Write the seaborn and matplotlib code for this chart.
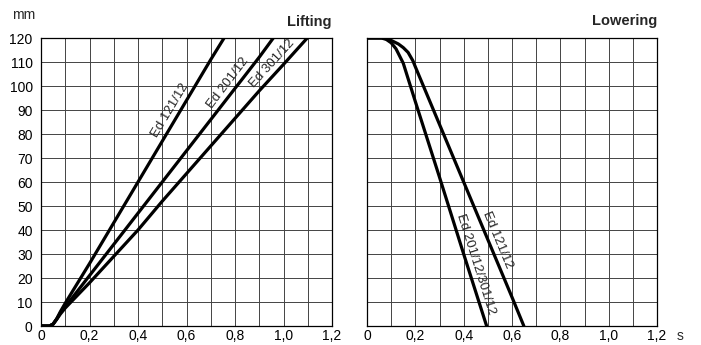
"""
Lifting / lowering stroke-time curves for Ed thrusters
"""

import numpy as np
import pandas as pd
import matplotlib
matplotlib.use('Agg')
import matplotlib.pyplot as plt
import matplotlib.transforms as mtransforms
import seaborn as sns

# Lifting curves (time in s, stroke in mm)
lift_121_t = [0, 0.035, 0.05, 0.065, 0.08, 0.1, 0.2, 0.3, 0.4, 0.5, 0.6, 0.7, 0.755]
lift_121_mm = [0, 0, 0.8, 3, 6, 9.5, 26, 43, 60, 77, 94, 111, 120]
lift_201_t = [0, 0.035, 0.05, 0.065, 0.08, 0.1, 0.2, 0.3, 0.4, 0.5, 0.6, 0.7, 0.8, 0.9, 0.958]
lift_201_mm = [0, 0, 0.8, 3, 5.5, 8, 21, 34, 47, 60, 73, 86, 99, 112, 120]
lift_301_t = [0, 0.035, 0.05, 0.065, 0.08, 0.1, 0.2, 0.3, 0.4, 0.5, 0.6, 0.7, 0.8, 0.9, 1.0, 1.098]
lift_301_mm = [0, 0, 0.8, 2.8, 5, 7.5, 18, 29, 40, 52, 63.5, 75, 86.5, 98, 109, 120]

# Lowering curves
lower_121_t = [0, 0.07, 0.1, 0.13, 0.15, 0.17, 0.19, 0.2, 0.3, 0.4, 0.5, 0.6, 0.649]
lower_121_mm = [120, 120, 119, 117.5, 116, 114, 110.5, 108, 84, 60, 36, 12, 0]
lower_201_301_t = [0, 0.06, 0.08, 0.1, 0.12, 0.135, 0.15, 0.2, 0.3, 0.4, 0.495]
lower_201_301_mm = [120, 120, 119.4, 118, 115.5, 112.5, 109.5, 93.5, 62, 30, 0]

x_tick_labels = ['0', '0,2', '0,4', '0,6', '0,8', '1,0', '1,2']
y_ticks = list(range(0, 121, 10))


def make_df(t, mm, name):
    return pd.DataFrame({'t': t, 'mm': mm, 'curve': name})


sns.set_style("white")
plt.rcParams['font.family'] = ['Liberation Sans', 'DejaVu Sans']
plt.rcParams['font.size'] = 10

fig = plt.figure(figsize=(7.01, 3.45), dpi=100)
ax1 = fig.add_axes([41 / 701, 19 / 345, 291 / 701, 288 / 345])
ax2 = fig.add_axes([367 / 701, 19 / 345, 290 / 701, 288 / 345])

lift = pd.concat([make_df(lift_121_t, lift_121_mm, 'Ed 121/12'),
                  make_df(lift_201_t, lift_201_mm, 'Ed 201/12'),
                  make_df(lift_301_t, lift_301_mm, 'Ed 301/12')])
lower = pd.concat([make_df(lower_121_t, lower_121_mm, 'Ed 121/12'),
                   make_df(lower_201_301_t, lower_201_301_mm, 'Ed 201/12/301/12')])

for ax, df in [(ax1, lift), (ax2, lower)]:
    sns.lineplot(data=df, x='t', y='mm', units='curve', estimator=None, sort=False,
                 color='black', linewidth=2.3, ax=ax, legend=False)
    ax.set_xlim(0, 1.2)
    ax.set_ylim(0, 120)
    ax.set_xticks(np.arange(0, 1.21, 0.1))
    ax.set_yticks(y_ticks)
    ax.grid(True, color='#444444', linewidth=0.7)
    ax.set_xlabel('')
    ax.set_ylabel('')
    for sp in ax.spines.values():
        sp.set_color('black')
        sp.set_linewidth(0.9)
    ax.tick_params(length=0, labelsize=10, colors='black')
    ax.set_xticklabels([x_tick_labels[i // 2] if i % 2 == 0 else '' for i in range(13)])
    ax.tick_params(axis='x', pad=2.5)

ax1.tick_params(axis='y', pad=6)
ax2.set_yticklabels([])

ax1.text(1.0, 1.055, 'Lifting', transform=ax1.transAxes, ha='right', va='center',
         fontsize=10.5, fontweight='bold')
ax2.text(1.0, 1.06, 'Lowering', transform=ax2.transAxes, ha='right', va='center',
         fontsize=10.5, fontweight='bold')
fig.text(12.5 / 701, 1 - 15 / 345, 'mm', ha='left', va='center', fontsize=10)
fig.text(680 / 701, 1 - 336 / 345, 's', ha='center', va='center', fontsize=10)


def curve_label(ax, t, mm, text, x, y, size=9.5):
    # label sits just beside the curve, rotated along its straight part
    p1 = ax.transData.transform((t[-3], mm[-3]))
    p2 = ax.transData.transform((t[-1], mm[-1]))
    ang = np.degrees(np.arctan2(p2[1] - p1[1], p2[0] - p1[0]))
    if ang < -90:
        ang += 180
    up = np.array([-np.sin(np.radians(ang)), np.cos(np.radians(ang))]) * 2.0
    tr = mtransforms.offset_copy(ax.transData, fig=fig, x=up[0], y=up[1], units='points')
    ax.text(x, y, text, transform=tr, rotation=ang, rotation_mode='anchor',
            ha='center', va='bottom', fontsize=size)


curve_label(ax1, lift_121_t, lift_121_mm, 'Ed 121/12', 0.565, 88)
curve_label(ax1, lift_201_t, lift_201_mm, 'Ed 201/12', 0.8, 99)
curve_label(ax1, lift_301_t, lift_301_mm, 'Ed 301/12', 0.982, 107)
curve_label(ax2, lower_201_301_t, lower_201_301_mm, 'Ed 201/12/301/12', 0.417, 24.7)
curve_label(ax2, lower_121_t, lower_121_mm, 'Ed 121/12', 0.506, 34.5)

fig.savefig('out.png', dpi=100)
